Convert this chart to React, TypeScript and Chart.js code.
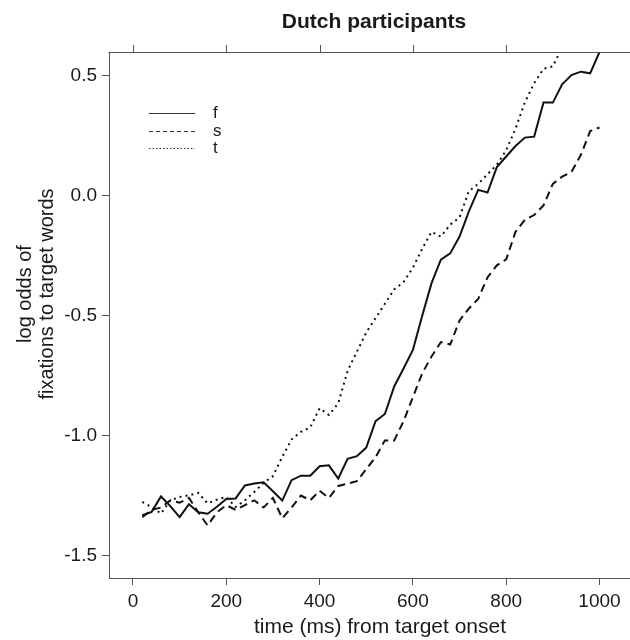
import React, { useEffect, useRef } from "react";
import { Chart, registerables } from "chart.js";

Chart.register(...registerables);

const chartTitle = "Dutch participants";
const xAxisTitle = "time (ms) from target onset";
const yAxisTitleLines = ["log odds of", "fixations to target words"];

const times = [
  20, 40, 60, 80, 100, 120, 140, 160, 180, 200,
  220, 240, 260, 280, 300, 320, 340, 360, 380, 400,
  420, 440, 460, 480, 500, 520, 540, 560, 580, 600,
  620, 640, 660, 680, 700, 720, 740, 760, 780, 800,
  820, 840, 860, 880, 900, 920, 940, 960, 980, 1000,
];

const seriesF = [
  -1.332, -1.318, -1.254, -1.294, -1.34, -1.286, -1.32, -1.326, -1.297, -1.264,
  -1.262, -1.208, -1.2, -1.195, -1.232, -1.271, -1.186, -1.167, -1.167, -1.128,
  -1.124, -1.179, -1.097, -1.086, -1.05, -0.94, -0.91, -0.795, -0.72, -0.643,
  -0.5, -0.364, -0.266, -0.24, -0.17, -0.065, 0.025, 0.014, 0.12, 0.164,
  0.208, 0.243, 0.247, 0.389, 0.389, 0.465, 0.504, 0.518, 0.511, 0.6,
];

const seriesS = [
  -1.34, -1.31, -1.3, -1.27, -1.28, -1.26, -1.32, -1.375, -1.32, -1.29,
  -1.31, -1.29, -1.27, -1.3, -1.26, -1.345, -1.3, -1.25, -1.27, -1.23,
  -1.26, -1.21, -1.2, -1.19, -1.14, -1.09, -1.02, -1.02, -0.94, -0.84,
  -0.74, -0.67, -0.61, -0.62, -0.52, -0.47, -0.43, -0.34, -0.29, -0.265,
  -0.15, -0.1, -0.08, -0.04, 0.05, 0.08, 0.1, 0.17, 0.27, 0.285,
];

const seriesT = [
  -1.277, -1.298, -1.325, -1.27, -1.256, -1.249, -1.239, -1.283, -1.267, -1.256,
  -1.298, -1.27, -1.235, -1.197, -1.169, -1.089, -1.016, -0.984, -0.966, -0.886,
  -0.914, -0.865, -0.73, -0.65, -0.57, -0.51, -0.45, -0.39, -0.36, -0.3,
  -0.22, -0.15, -0.17, -0.12, -0.09, 0.02, 0.05, 0.09, 0.13, 0.19,
  0.28, 0.39, 0.47, 0.53, 0.54, 0.62, 0.68, 0.72, 0.76, 0.8,
];

const seriesLabels = ["f", "s", "t"];
const xTicks = [0, 200, 400, 600, 800, 1000];
const xTopTicks = [0, 200, 400, 600, 800];
const yTicks = [-1.5, -1.0, -0.5, 0.0, 0.5];

const FONT = "'Liberation Sans', Arial, Helvetica, sans-serif";
const AXIS_COLOR = "#555555";
const TEXT_COLOR = "#1a1a1a";

const decorPlugin = {
  id: "decor",
  afterDraw(chart: any) {
    const { ctx, chartArea, scales } = chart;
    const xs = scales.x;
    ctx.save();
    ctx.strokeStyle = AXIS_COLOR;
    ctx.lineWidth = 1;
    ctx.setLineDash([]);
    ctx.beginPath();
    ctx.moveTo(chartArea.left - 0.5, Math.round(chartArea.top) + 0.5);
    ctx.lineTo(chartArea.right, Math.round(chartArea.top) + 0.5);
    for (const v of xTopTicks) {
      const px = Math.round(xs.getPixelForValue(v)) + 0.5;
      ctx.moveTo(px, chartArea.top);
      ctx.lineTo(px, chartArea.top - 7);
    }
    ctx.stroke();

    ctx.fillStyle = TEXT_COLOR;
    ctx.font = `bold 21px ${FONT}`;
    ctx.textAlign = "center";
    ctx.textBaseline = "middle";
    ctx.fillText(chartTitle, 374, 22);

    ctx.font = `21px ${FONT}`;
    ctx.fillText(xAxisTitle, 380, 627);

    ctx.font = `20px ${FONT}`;
    ctx.save();
    ctx.translate(0, 294);
    ctx.rotate(-Math.PI / 2);
    ctx.fillText(yAxisTitleLines[0], 0, 25);
    ctx.fillText(yAxisTitleLines[1], 0, 47);
    ctx.restore();

    const lx0 = 149;
    const lx1 = 195;
    const ly = [113, 131, 148];
    const dashes = [[], [4, 3], [1.5, 2]];
    chart.data.datasets.forEach((ds: any, i: number) => {
      ctx.strokeStyle = "#333333";
      ctx.lineWidth = 1;
      ctx.setLineDash(dashes[i]);
      ctx.beginPath();
      ctx.moveTo(lx0, ly[i] + 0.5);
      ctx.lineTo(lx1, ly[i] + 0.5);
      ctx.stroke();
      ctx.setLineDash([]);
      ctx.fillStyle = TEXT_COLOR;
      ctx.font = `17px ${FONT}`;
      ctx.textAlign = "left";
      ctx.textBaseline = "middle";
      ctx.fillText(ds.label, 213, ly[i]);
    });
    ctx.restore();
  },
};

export default function App() {
  const canvasRef = useRef<HTMLCanvasElement | null>(null);

  useEffect(() => {
    const canvas = canvasRef.current;
    if (!canvas) return;
    const mk = (vals: number[]) => times.map((t, i) => ({ x: t, y: vals[i] }));
    const chart = new Chart(canvas, {
      type: "line",
      data: {
        datasets: [
          {
            label: seriesLabels[0],
            data: mk(seriesF),
            borderColor: "#111111",
            borderWidth: 2,
            pointRadius: 0,
            tension: 0,
            fill: false,
          },
          {
            label: seriesLabels[1],
            data: mk(seriesS),
            borderColor: "#111111",
            borderWidth: 2,
            borderDash: [8, 5],
            pointRadius: 0,
            tension: 0,
            fill: false,
          },
          {
            label: seriesLabels[2],
            data: mk(seriesT),
            borderColor: "#111111",
            borderWidth: 2,
            borderDash: [2, 4],
            pointRadius: 0,
            tension: 0,
            fill: false,
          },
        ],
      },
      options: {
        responsive: false,
        animation: false,
        devicePixelRatio: 1,
        layout: { padding: { top: 52, left: 0, right: 0, bottom: 0 } },
        plugins: {
          legend: { display: false },
          title: { display: false },
          tooltip: { enabled: false },
        },
        scales: {
          x: {
            type: "linear",
            min: -51.4,
            max: 1065.4,
            afterBuildTicks: (s: any) => {
              s.ticks = xTicks.map((v) => ({ value: v }));
            },
            afterFit: (s: any) => {
              s.height = 62;
            },
            ticks: {
              autoSkip: false,
              maxRotation: 0,
              padding: 5,
              color: TEXT_COLOR,
              font: { family: FONT, size: 19 },
              callback: (v: any) => String(v),
            },
            grid: {
              drawOnChartArea: false,
              drawTicks: true,
              tickLength: 7,
              color: AXIS_COLOR,
            },
            border: { display: true, color: AXIS_COLOR, width: 1 },
          },
          y: {
            type: "linear",
            min: -1.594,
            max: 0.6,
            afterBuildTicks: (s: any) => {
              s.ticks = yTicks.map((v) => ({ value: v }));
            },
            afterFit: (s: any) => {
              s.width = 109;
            },
            ticks: {
              autoSkip: false,
              padding: 5,
              color: TEXT_COLOR,
              font: { family: FONT, size: 19 },
              callback: (v: any) => Number(v).toFixed(1),
            },
            grid: {
              drawOnChartArea: false,
              drawTicks: true,
              tickLength: 7,
              color: AXIS_COLOR,
            },
            border: { display: true, color: AXIS_COLOR, width: 1 },
          },
        },
      },
      plugins: [decorPlugin],
    });
    return () => chart.destroy();
  }, []);

  return (
    <canvas
      ref={canvasRef}
      width={630}
      height={640}
      style={{ position: "fixed", left: 0, top: 0, width: "630px", height: "640px", background: "#ffffff" }}
    />
  );
}
